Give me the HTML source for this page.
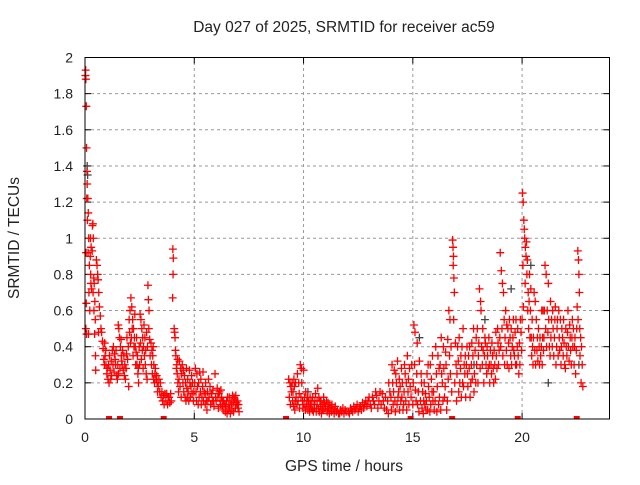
<!DOCTYPE html>
<html><head><meta charset="utf-8"><style>
body{margin:0;background:#fff}
svg text{font-family:"Liberation Sans",sans-serif;font-size:14px;fill:#222}
svg text.big{font-size:15.5px}
</style></head><body>
<svg id="chart" width="640" height="480" xmlns="http://www.w3.org/2000/svg">
<rect width="640" height="480" fill="#fff"/>
<text class="big" x="344" y="32" text-anchor="middle">Day 027 of 2025, SRMTID for receiver ac59</text>
<text class="big" x="19" y="238" text-anchor="middle" transform="rotate(-90 19 238)">SRMTID / TECUs</text>
<text class="big" x="344" y="471" text-anchor="middle">GPS time / hours</text>
<g id="grid"></g><g id="ticks"></g><g id="marks"></g>
<rect x="85" y="57.5" width="524.5" height="361.5" fill="none" stroke="#000" stroke-width="1"/>
</svg>
<script>
const xTicks=[0,5,10,15,20];
const yTicks=[0,0.2,0.4,0.6,0.8,1,1.2,1.4,1.6,1.8,2];
const yTickLabels=["0","0.2","0.4","0.6","0.8","1","1.2","1.4","1.6","1.8","2"];
const zeroHours=[1.1,1.6,3.6,9.2,14.9,16.8,19.8,22.5];
const grayPoints=[[0.1,1.4],[0.12,1.35],[15.3,0.45],[18.3,0.55],[19.5,0.72],[20.4,0.85],[21.2,0.2],[22.6,0.3],[10.2,0.15],[17.8,0.3]];
const redPoints=[
[0.02,1.9],[0.03,1.93],[0.04,1.88],[0.06,1.73],[0.07,1.5],[0.09,1.37],[0.1,1.3],[0.08,1.22],[0.11,1.1],[0.05,0.92],[0.06,0.64],[0.04,0.5],[0.07,0.47],
[0.13,1.22],[0.15,1.14],[0.17,1.0],[0.14,0.92],[0.2,0.85],[0.18,0.7],[0.22,0.6],[0.16,0.47],[0.25,1.0],[0.28,0.95],[0.24,0.9],[0.27,0.75],[0.3,0.72],[0.26,0.8],
[0.34,1.07],[0.36,1.08],[0.38,1.0],[0.33,0.93],[0.4,0.78],[0.42,0.75],[0.37,0.7],[0.45,0.65],[0.41,0.6],[0.47,0.55],[0.44,0.47],[0.48,0.35],[0.49,0.27],
[0.52,0.88],[0.55,0.85],[0.58,0.8],[0.6,0.77],[0.63,0.7],[0.66,0.62],[0.7,0.57],[0.73,0.5],[0.76,0.48],[0.8,0.43],[0.83,0.39],[0.86,0.33],[0.89,0.3],[0.62,0.48],
[0.92,0.35],[0.96,0.3],[1.0,0.25],[1.05,0.22],[1.1,0.2],[1.15,0.27],[1.2,0.32],[1.25,0.38],[1.3,0.4],[1.35,0.36],[1.4,0.3],[1.45,0.24],[1.48,0.22],[1.02,0.28],[1.22,0.24],
[1.52,0.52],[1.55,0.5],[1.58,0.45],[1.62,0.4],[1.66,0.35],[1.7,0.3],[1.75,0.27],[1.8,0.24],[1.85,0.22],[1.9,0.36],[1.95,0.33],[1.98,0.4],[1.6,0.28],[1.72,0.38],
[2.02,0.55],[2.06,0.6],[2.1,0.67],[2.14,0.62],[2.18,0.55],[2.22,0.5],[2.26,0.45],[2.3,0.4],[2.34,0.37],[2.38,0.3],[2.42,0.25],[2.45,0.2],[2.0,0.18],[2.2,0.35],[2.12,0.45],[2.28,0.58],
[2.52,0.58],[2.56,0.55],[2.6,0.5],[2.64,0.45],[2.68,0.4],[2.72,0.35],[2.76,0.3],[2.8,0.25],[2.84,0.22],[2.88,0.74],[2.9,0.66],[2.93,0.6],[2.96,0.44],[2.7,0.52],[2.58,0.33],
[3.02,0.42],[3.06,0.38],[3.1,0.35],[3.15,0.3],[3.2,0.25],[3.25,0.22],[3.3,0.2],[3.35,0.18],[3.42,0.15],[3.12,0.4],[3.22,0.28],
[3.52,0.15],[3.6,0.13],[3.7,0.1],[3.78,0.08],[3.85,0.12],[3.92,0.14],[3.66,0.14],[3.8,0.12],
[4.02,0.94],[4.04,0.89],[4.03,0.8],[4.01,0.67],[4.08,0.5],[4.1,0.48],[4.12,0.45],[4.14,0.38],[4.16,0.35],[4.2,0.3],[4.22,0.25],[4.25,0.2],[4.28,0.15],
[4.32,0.32],[4.38,0.28],[4.42,0.25],[4.48,0.2],[4.52,0.15],[4.58,0.12],[4.62,0.1],[4.7,0.22],[4.78,0.27],[4.85,0.18],[4.9,0.14],[4.96,0.1],[4.55,0.24],[4.66,0.17],
[5.05,0.28],[5.12,0.25],[5.2,0.2],[5.28,0.15],[5.35,0.12],[5.42,0.1],[5.5,0.08],[5.58,0.05],[5.65,0.22],[5.72,0.18],[5.8,0.14],[5.88,0.1],[5.95,0.25],[5.3,0.22],[5.5,0.14],
[6.05,0.17],[6.15,0.15],[6.25,0.12],[6.35,0.1],[6.45,0.07],[6.55,0.05],[6.65,0.03],[6.75,0.13],[6.85,0.11],[6.92,0.09],[7.0,0.06],[7.05,0.04],[6.2,0.08],[6.7,0.08],
[9.32,0.22],[9.38,0.2],[9.45,0.15],[9.5,0.1],[9.55,0.07],[9.6,0.05],[9.66,0.12],[9.72,0.25],[9.78,0.2],[9.85,0.3],[9.9,0.28],[9.95,0.1],[9.4,0.08],[9.58,0.18],
[10.05,0.12],[10.15,0.1],[10.25,0.08],[10.35,0.06],[10.45,0.04],[10.55,0.14],[10.65,0.17],[10.75,0.1],[10.85,0.05],[10.95,0.09],[10.3,0.12],[10.6,0.06],
[11.05,0.1],[11.2,0.08],[11.35,0.05],[11.5,0.04],[11.65,0.03],[11.8,0.06],[11.1,0.05],[11.45,0.07],
[12.05,0.04],[12.2,0.05],[12.4,0.06],[12.6,0.07],[12.8,0.08],[12.95,0.1],[12.5,0.04],
[13.05,0.08],[13.2,0.1],[13.35,0.13],[13.5,0.15],[13.65,0.1],[13.8,0.05],[13.9,0.2],[13.95,0.15],[13.4,0.06],
[14.05,0.3],[14.15,0.27],[14.25,0.2],[14.35,0.15],[14.45,0.1],[14.55,0.05],[14.65,0.25],[14.75,0.35],[14.85,0.28],[14.3,0.32],[14.6,0.15],
[15.05,0.52],[15.1,0.48],[15.2,0.42],[15.3,0.32],[15.4,0.2],[15.5,0.1],[15.6,0.05],[15.7,0.3],[15.85,0.22],[15.15,0.1],[15.95,0.15],
[16.05,0.4],[16.15,0.35],[16.25,0.3],[16.35,0.2],[16.45,0.12],[16.55,0.05],[16.6,0.44],[16.65,0.6],[16.7,0.55],[16.5,0.37],[16.3,0.45],
[16.82,0.99],[16.84,0.95],[16.86,0.9],[16.85,0.85],[16.88,0.78],[16.9,0.7],[16.87,0.55],[16.95,0.42],[16.98,0.3],
[17.05,0.4],[17.2,0.35],[17.35,0.3],[17.5,0.25],[17.65,0.2],[17.8,0.15],[17.9,0.45],[17.4,0.35],[17.15,0.2],[17.6,0.4],
[18.05,0.72],[18.1,0.65],[18.12,0.6],[18.2,0.5],[18.3,0.45],[18.4,0.4],[18.5,0.3],[18.6,0.25],[18.7,0.2],[18.8,0.48],[18.9,0.42],[18.95,0.38],[18.35,0.3],[18.65,0.35],
[19.0,0.92],[19.05,0.82],[19.1,0.75],[19.15,0.7],[19.25,0.6],[19.35,0.5],[19.45,0.45],[19.55,0.4],[19.65,0.35],[19.75,0.3],[19.85,0.25],[19.95,0.48],[19.4,0.28],
[20.02,1.25],[20.05,1.2],[20.08,1.1],[20.1,1.05],[20.12,1.0],[20.15,0.95],[20.18,0.9],[20.22,0.8],[20.28,0.7],[20.32,0.65],[20.38,0.6],[20.42,0.45],[20.48,0.4],
[20.55,0.7],[20.6,0.65],[20.65,0.55],[20.7,0.45],[20.78,0.4],[20.85,0.35],[20.92,0.3],[20.96,0.6],
[21.05,0.85],[21.1,0.8],[21.2,0.75],[21.3,0.65],[21.4,0.6],[21.5,0.55],[21.6,0.5],[21.7,0.45],[21.8,0.4],[21.88,0.35],[21.95,0.3],[21.98,0.28],[21.25,0.4],[21.55,0.3],
[22.55,0.93],[22.58,0.88],[22.6,0.8],[22.62,0.7],[22.1,0.6],[22.3,0.55],[22.5,0.5],[22.2,0.45],[22.4,0.4],[22.65,0.35],[22.45,0.25],[22.78,0.18],[22.7,0.2]
];
const extraPoints=[
[0.9,0.42],[0.95,0.38],[1.08,0.3],[1.12,0.35],[1.18,0.22],[1.28,0.3],[1.33,0.26],[1.38,0.33],[1.42,0.38],[1.5,0.3],[1.53,0.25],[1.65,0.44],[1.68,0.32],[1.78,0.35],[1.82,0.3],[1.88,0.28],[1.92,0.45],
[2.04,0.48],[2.08,0.42],[2.16,0.5],[2.24,0.4],[2.32,0.3],[2.36,0.45],[2.4,0.35],[2.44,0.28],[2.48,0.4],[2.5,0.3],[2.54,0.42],[2.62,0.38],[2.66,0.28],[2.74,0.45],[2.78,0.38],[2.82,0.48],[2.86,0.4],[2.92,0.5],[2.98,0.35],
[3.04,0.3],[3.08,0.25],[3.14,0.22],[3.18,0.2],[3.28,0.24],[3.32,0.15],[3.38,0.22],[3.45,0.2],[3.48,0.12],[3.55,0.1],[3.62,0.08],[3.74,0.14],[3.88,0.09],[3.95,0.1],
[4.18,0.28],[4.24,0.33],[4.3,0.22],[4.35,0.18],[4.4,0.12],[4.45,0.3],[4.5,0.27],[4.6,0.2],[4.64,0.28],[4.68,0.12],[4.72,0.15],[4.75,0.1],[4.8,0.2],[4.82,0.12],[4.88,0.24],[4.92,0.2],[4.98,0.15],
[5.02,0.2],[5.08,0.15],[5.1,0.1],[5.15,0.18],[5.18,0.08],[5.22,0.12],[5.25,0.26],[5.32,0.08],[5.38,0.18],[5.4,0.26],[5.45,0.15],[5.52,0.2],[5.55,0.1],[5.6,0.15],[5.62,0.1],[5.68,0.12],[5.75,0.08],[5.78,0.14],[5.82,0.1],[5.85,0.16],[5.9,0.07],[5.98,0.12],
[6.0,0.1],[6.08,0.12],[6.1,0.06],[6.12,0.14],[6.18,0.1],[6.22,0.16],[6.28,0.07],[6.3,0.1],[6.32,0.05],[6.4,0.08],[6.42,0.04],[6.48,0.1],[6.5,0.03],[6.52,0.12],[6.58,0.08],[6.6,0.12],[6.62,0.06],[6.68,0.1],[6.72,0.05],[6.78,0.09],[6.8,0.04],[6.82,0.12],[6.88,0.06],[6.9,0.13],[6.95,0.08],[6.98,0.1],[7.02,0.08],
[9.35,0.12],[9.42,0.18],[9.48,0.2],[9.52,0.15],[9.56,0.22],[9.62,0.1],[9.64,0.2],[9.7,0.08],[9.75,0.1],[9.8,0.14],[9.82,0.06],[9.88,0.12],[9.92,0.2],[9.97,0.06],[10.0,0.27],[10.02,0.08],[10.08,0.05],[10.1,0.15],[10.12,0.07],[10.18,0.12],[10.2,0.05],[10.22,0.1],[10.28,0.04],[10.32,0.08],[10.38,0.1],[10.4,0.05],[10.42,0.12],[10.48,0.08],[10.5,0.06],[10.52,0.1],[10.58,0.04],[10.62,0.1],[10.68,0.06],[10.7,0.12],[10.72,0.04],[10.78,0.07],[10.8,0.1],[10.82,0.03],[10.88,0.08],[10.9,0.05],[10.92,0.12],[10.98,0.06],
[11.0,0.07],[11.08,0.04],[11.12,0.09],[11.15,0.06],[11.18,0.03],[11.25,0.06],[11.28,0.04],[11.3,0.08],[11.4,0.03],[11.42,0.05],[11.55,0.05],[11.6,0.03],[11.7,0.05],[11.75,0.04],[11.85,0.03],[11.9,0.05],[11.95,0.04],
[12.1,0.03],[12.15,0.06],[12.25,0.04],[12.3,0.07],[12.35,0.05],[12.45,0.08],[12.55,0.06],[12.65,0.05],[12.7,0.09],[12.75,0.06],[12.85,0.1],[12.9,0.07],
[13.0,0.12],[13.1,0.06],[13.15,0.12],[13.25,0.08],[13.3,0.15],[13.45,0.1],[13.55,0.08],[13.6,0.14],[13.7,0.06],[13.75,0.12],[13.85,0.1],[13.88,0.03],
[14.0,0.12],[14.02,0.05],[14.08,0.2],[14.1,0.08],[14.12,0.15],[14.18,0.1],[14.2,0.04],[14.22,0.25],[14.28,0.08],[14.32,0.12],[14.38,0.22],[14.4,0.05],[14.42,0.18],[14.48,0.28],[14.5,0.12],[14.52,0.2],[14.58,0.08],[14.62,0.3],[14.68,0.1],[14.7,0.2],[14.72,0.05],[14.78,0.15],[14.8,0.22],[14.82,0.08],[14.88,0.18],[14.92,0.12],[14.95,0.3],
[15.0,0.08],[15.02,0.2],[15.08,0.3],[15.12,0.16],[15.18,0.25],[15.22,0.08],[15.25,0.15],[15.28,0.04],[15.35,0.1],[15.38,0.25],[15.42,0.06],[15.45,0.15],[15.48,0.03],[15.52,0.2],[15.55,0.08],[15.58,0.14],[15.62,0.1],[15.65,0.25],[15.68,0.05],[15.72,0.18],[15.75,0.12],[15.78,0.04],[15.8,0.3],[15.82,0.08],[15.88,0.15],[15.9,0.35],[15.92,0.1],[15.98,0.05],
[16.02,0.1],[16.08,0.25],[16.1,0.04],[16.12,0.18],[16.18,0.08],[16.2,0.28],[16.22,0.12],[16.28,0.05],[16.32,0.25],[16.38,0.1],[16.4,0.4],[16.42,0.28],[16.48,0.18],[16.52,0.3],[16.58,0.1],[16.62,0.22],[16.68,0.35],[16.72,0.25],[16.75,0.4],[16.78,0.15],[16.92,0.2],
[17.0,0.1],[17.02,0.25],[17.08,0.32],[17.1,0.15],[17.12,0.45],[17.18,0.28],[17.22,0.12],[17.25,0.4],[17.28,0.2],[17.3,0.5],[17.32,0.18],[17.38,0.25],[17.42,0.12],[17.45,0.3],[17.48,0.4],[17.52,0.18],[17.55,0.35],[17.58,0.28],[17.62,0.12],[17.68,0.3],[17.7,0.42],[17.72,0.22],[17.75,0.35],[17.78,0.5],[17.82,0.25],[17.85,0.38],[17.88,0.2],[17.92,0.3],[17.95,0.5],[17.98,0.2],
[18.0,0.35],[18.02,0.42],[18.08,0.28],[18.15,0.4],[18.18,0.3],[18.22,0.38],[18.25,0.2],[18.28,0.35],[18.32,0.42],[18.38,0.25],[18.42,0.35],[18.45,0.28],[18.48,0.45],[18.52,0.2],[18.55,0.38],[18.58,0.3],[18.62,0.42],[18.68,0.28],[18.72,0.38],[18.75,0.3],[18.78,0.22],[18.82,0.35],[18.85,0.28],[18.88,0.5],[18.92,0.3],[18.98,0.45],
[19.02,0.4],[19.08,0.5],[19.12,0.35],[19.18,0.55],[19.2,0.3],[19.22,0.45],[19.28,0.38],[19.3,0.52],[19.32,0.3],[19.38,0.42],[19.42,0.55],[19.48,0.35],[19.5,0.5],[19.52,0.3],[19.58,0.45],[19.6,0.55],[19.62,0.38],[19.68,0.48],[19.7,0.3],[19.72,0.55],[19.78,0.4],[19.8,0.5],[19.82,0.35],[19.88,0.42],[19.9,0.3],[19.92,0.55],[19.98,0.38],
[20.0,0.55],[20.04,0.85],[20.06,0.62],[20.14,0.75],[20.2,0.98],[20.24,0.88],[20.26,0.6],[20.3,0.5],[20.34,0.8],[20.36,0.45],[20.4,0.72],[20.44,0.35],[20.46,0.55],[20.5,0.3],[20.52,0.45],[20.58,0.38],[20.62,0.3],[20.68,0.38],[20.72,0.32],[20.75,0.5],[20.8,0.3],[20.82,0.45],[20.88,0.4],[20.9,0.6],[20.94,0.45],[20.98,0.38],
[21.0,0.45],[21.02,0.6],[21.08,0.5],[21.12,0.4],[21.15,0.6],[21.18,0.48],[21.22,0.55],[21.28,0.35],[21.32,0.45],[21.35,0.55],[21.38,0.4],[21.42,0.5],[21.45,0.35],[21.48,0.45],[21.52,0.62],[21.58,0.4],[21.62,0.55],[21.65,0.35],[21.68,0.6],[21.72,0.38],[21.75,0.55],[21.78,0.3],[21.82,0.5],[21.85,0.45],[21.9,0.55],[21.92,0.42],
[22.0,0.5],[22.02,0.4],[22.05,0.35],[22.08,0.48],[22.12,0.4],[22.15,0.32],[22.18,0.52],[22.22,0.38],[22.25,0.3],[22.28,0.45],[22.32,0.4],[22.35,0.5],[22.38,0.3],[22.42,0.45],[22.48,0.38],[22.52,0.62],[22.56,0.55],[22.64,0.5],[22.68,0.45],[22.72,0.4],[22.75,0.3]
];
const NS="http://www.w3.org/2000/svg";
const x0=85,x1=609.5,y0=419,y1=57.5,xMax=24,yMax=2;
function xs(h){return x0+(x1-x0)*h/xMax;}
function ys(v){return y0-(y0-y1)*v/yMax;}
function mk(tag,attrs,parent){const e=document.createElementNS(NS,tag);for(const k in attrs)e.setAttribute(k,attrs[k]);parent.appendChild(e);return e;}
const grid=document.getElementById('grid'),ticks=document.getElementById('ticks'),marks=document.getElementById('marks');
yTicks.forEach((v,i)=>{
  const y=ys(v);
  if(v>0&&v<yMax){const g=mk('line',{x1:x0,x2:x1,y1:y,y2:y,stroke:'#999','stroke-dasharray':'3,3'},grid);
  
  }
  mk('line',{x1:x0,x2:x0+6,y1:y,y2:y,stroke:'#000'},ticks);
  mk('line',{x1:x1,x2:x1-6,y1:y,y2:y,stroke:'#000'},ticks);
  const t=mk('text',{x:73,y:y+5,'text-anchor':'end'},ticks);t.textContent=yTickLabels[i];
  
  
});
xTicks.forEach(h=>{
  const x=xs(h);
  if(h>0){const g=mk('line',{x1:x,x2:x,y1:y0,y2:y1,stroke:'#999','stroke-dasharray':'3,3'},grid);
  
  }
  mk('line',{x1:x,x2:x,y1:y0,y2:y0-6,stroke:'#000'},ticks);
  mk('line',{x1:x,x2:x,y1:y1,y2:y1+6,stroke:'#000'},ticks);
  const t=mk('text',{x:x,y:y0+23,'text-anchor':'middle'},ticks);t.textContent=String(h);
  
  
});
function plus(h,v,col,name){
  const x=xs(h),y=ys(v);
  const p=mk('path',{d:`M${x-4},${y}h8M${x},${y-4}v8`,stroke:col,'stroke-width':1.3,fill:'none'},marks);
  
  
}
grayPoints.forEach(p=>plus(p[0],p[1],'#444','gray-point'));
redPoints.forEach(p=>plus(p[0],p[1],'#f00','srmtid-point'));
extraPoints.forEach(p=>plus(p[0],p[1],'#f00','srmtid-point'));
zeroHours.forEach(h=>{
  const r=mk('rect',{x:xs(h)-3,y:y0-3,width:6,height:3.5,fill:'#f00'},marks);
  
  
});
</script>
</body></html>
